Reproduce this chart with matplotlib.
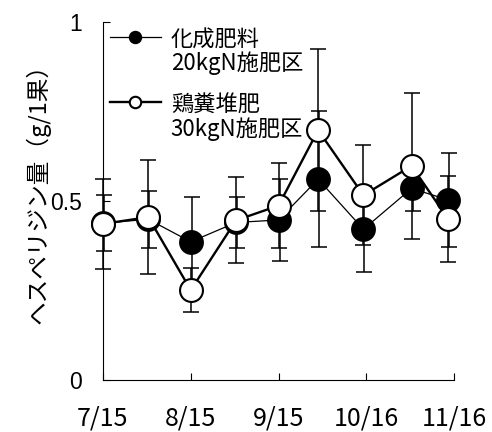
import numpy as np
import pandas as pd
import matplotlib
matplotlib.use("Agg")
import matplotlib.pyplot as plt
import matplotlib.transforms as mtransforms
from matplotlib.legend_handler import HandlerLine2D

# sampling dates (year is arbitrary)
dates = ["2003-07-15", "2003-07-31", "2003-08-15", "2003-08-31", "2003-09-15",
         "2003-09-29", "2003-10-15", "2003-11-01", "2003-11-14"]

# 化成肥料 20kgN
chem_mean = [0.438, 0.449, 0.386, 0.440, 0.447, 0.561, 0.421, 0.535, 0.503]
chem_err = [0.078, 0.079, 0.124, 0.072, 0.115, 0.190, 0.120, 0.062, 0.132]

# 鶏糞堆肥 30kgN
manure_mean = [0.436, 0.455, 0.251, 0.446, 0.487, 0.698, 0.516, 0.598, 0.449]
manure_err = [0.125, 0.160, 0.062, 0.120, 0.118, 0.227, 0.140, 0.203, 0.120]

tick_dates = ["2003-07-15", "2003-08-15", "2003-09-15", "2003-10-16", "2003-11-16"]
tick_labels = ["7/15", "8/15", "9/15", "10/16", "11/16"]
y_ticks = [0, 0.5, 1]
y_tick_labels = ["0", "0.5", "1"]

chem_label = "化成肥料\n20kgN施肥区"
manure_label = "鶏糞堆肥\n30kgN施肥区"
ylabel = "ヘスペリジン量（g/1果）"

JP = ["Noto Sans CJK JP", "DejaVu Sans"]


class FirstLineHandler(HandlerLine2D):
    # put the legend line next to the first line of a two-line label
    def __init__(self, shift, **kw):
        super().__init__(**kw)
        self.shift = shift

    def create_artists(self, legend, orig_handle, xdescent, ydescent,
                       width, height, fontsize, trans):
        arts = super().create_artists(legend, orig_handle, xdescent, ydescent,
                                      width, height, fontsize, trans)
        for a in arts:
            a.set_ydata(np.asarray(a.get_ydata()) + self.shift)
        return arts


x = pd.to_datetime(dates)

fig = plt.figure(figsize=(4.92, 4.32), dpi=100)
ax = fig.add_axes([103 / 492, 1 - 380 / 432, 351 / 492, 358 / 432])

# error bars first (black ones nudged a pixel so overlaps look heavier)
shifted = mtransforms.offset_copy(ax.transData, fig=fig, x=1.0, y=0, units="dots")
ax.errorbar(x, chem_mean, yerr=chem_err, fmt="none", ecolor="black",
            elinewidth=1.1, capsize=5.8, capthick=1.1, transform=shifted,
            clip_on=False, zorder=2)
ax.errorbar(x, manure_mean, yerr=manure_err, fmt="none", ecolor="black",
            elinewidth=1.1, capsize=5.8, capthick=1.1, clip_on=False, zorder=2)

chem_line, = ax.plot(x, chem_mean, color="black", lw=0.9, marker="o",
                     markersize=16.5, markerfacecolor="black",
                     markeredgecolor="black", markeredgewidth=1.4,
                     clip_on=False, zorder=3)
manure_line, = ax.plot(x, manure_mean, color="black", lw=1.7, marker="o",
                       markersize=16.5, markerfacecolor="white",
                       markeredgecolor="black", markeredgewidth=1.5,
                       clip_on=False, zorder=4)

ax.set_xlim(pd.Timestamp(tick_dates[0]), pd.Timestamp(tick_dates[-1]))
ax.set_ylim(0, 1)

ax.set_xticks(pd.to_datetime(tick_dates))
ax.set_xticklabels(tick_labels, family=JP, fontsize=18)
ax.set_yticks(y_ticks)
ax.set_yticklabels(y_tick_labels, family="Liberation Sans", fontsize=16.5)
ax.tick_params(axis="x", direction="in", length=5, width=0.8, pad=18)
ax.tick_params(axis="y", direction="in", length=5, width=0.8, pad=15)

for s in ["top", "right"]:
    ax.spines[s].set_visible(False)
for s in ["left", "bottom"]:
    ax.spines[s].set_linewidth(0.8)

ax.set_ylabel(ylabel, family=JP, fontsize=17, labelpad=0)
ax.yaxis.label.set_y(0.535)

leg_fs = 16
shift = leg_fs * 0.75
leg = ax.legend([chem_line, manure_line], [chem_label, manure_label],
                handler_map={chem_line: FirstLineHandler(shift),
                             manure_line: FirstLineHandler(shift)},
                loc="upper left", bbox_to_anchor=(0.0, 1.0), frameon=False,
                prop={"family": JP, "size": leg_fs}, markerscale=0.5,
                handlelength=2.3, handletextpad=0.45, labelspacing=0.85,
                borderpad=0.0, borderaxespad=0.3)
for t in leg.get_texts():
    t.set_linespacing(1.0)

fig.savefig("out.png", dpi=100)
